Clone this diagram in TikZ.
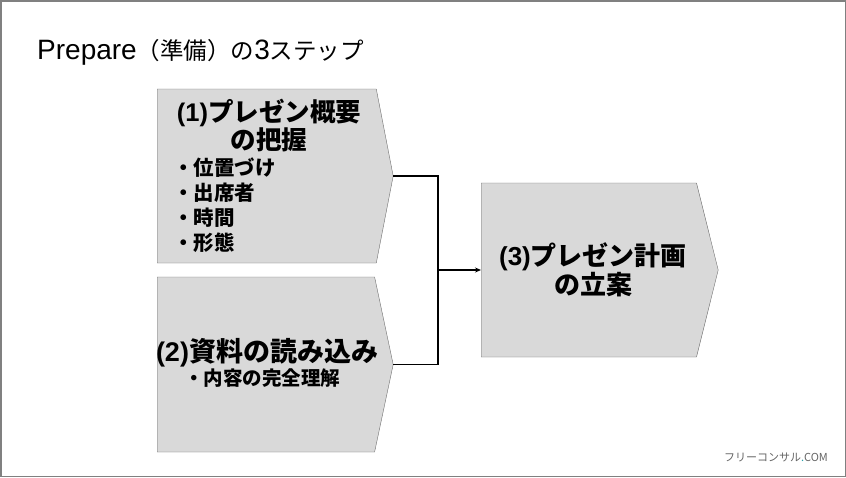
\documentclass[tikz,border=0pt]{standalone}
\usepackage{fontspec}
\setmainfont{Liberation Sans}
\newfontfamily\jp{Noto Sans CJK JP}
\usepackage{xcolor}
\definecolor{StepFill}{RGB}{217, 217, 217}
\definecolor{StepEdge}{RGB}{110, 110, 110}
\definecolor{FrameGray}{RGB}{128, 128, 128}
\definecolor{MarkGray}{RGB}{100, 100, 100}
\definecolor{MarkTeal}{RGB}{40, 160, 170}
\usetikzlibrary{arrows.meta, positioning, shapes.symbols}
\newcommand{\ja}[1]{{\jp #1}}
\newcommand{\fs}[2]{\fontsize{#1}{#2}\selectfont}

\begin{document}
\begin{tikzpicture}[x=1pt, y=-1pt,
    stepbox/.style={signal, signal to=east, signal from=nowhere, signal pointer angle=158,
        draw=StepEdge, fill=StepFill, inner sep=0pt, minimum width=236pt, minimum height=174pt},
    head/.style={font=\bfseries, align=center, inner sep=0pt},
    bullet/.style={anchor=west, inner sep=0pt},
    link/.style={line width=1.5pt, black}
]
\useasboundingbox (0,0) rectangle (846,477);
\draw[FrameGray, line width=1.5pt] (0.75,0.75) rectangle (845.25,476.25);

% Title
\node[anchor=west, inner sep=0pt] (title) at (37,52)
    {\fs{28}{28}Prepare\ja{\fs{23.5}{28}（準備）の}3\ja{\fs{23.5}{28}ステップ}};

% Step boxes
\node[stepbox, anchor=west] (s1) at (157,176) {};
\node[stepbox, anchor=west, minimum height=175pt, signal pointer angle=156] (s2) at (157,364.5) {};
\node[stepbox, anchor=west, minimum width=237pt, signal pointer angle=152] (s3) at (481,270) {};

% Headings
\node[head, font=\bfseries\fs{25.5}{28}] (h1) at (269,126) {(1)\ja{プレゼン概要}\\\ja{の把握}};
\node[head, font=\bfseries\fs{27}{30}] (h2) at (267,353) {(2)\ja{資料の読み込み}};
\node[head, font=\bfseries\fs{26}{26}] (h3) at (593,270) {(3)\ja{プレゼン計画}\\\ja{の立案}};

% Bullet items
\foreach \txt [count=\i] in {位置づけ,出席者,時間,形態}
    \node[bullet, font=\bfseries\fs{20.5}{25}] (b\i) at (173,143+25*\i) {\ja{・\txt}};
\node[bullet, font=\bfseries\fs{19.5}{24}] (b5) at (184,378) {\ja{・内容の完全理解}};

% Connectors
\coordinate (jn) at (438,270);
\draw[link] (s1.east) -| (jn);
\draw[link] (s2.east) -| (jn);
\draw[link, -{Stealth[length=6pt, width=5pt]}] (jn) -- (s3.west);

% Watermark
\node[inner sep=0pt, text=MarkGray] (mark) at (776,457)
    {\ja{\fs{11}{11}フリーコンサル{\color{MarkTeal}.}COM}};
\end{tikzpicture}
\end{document}
